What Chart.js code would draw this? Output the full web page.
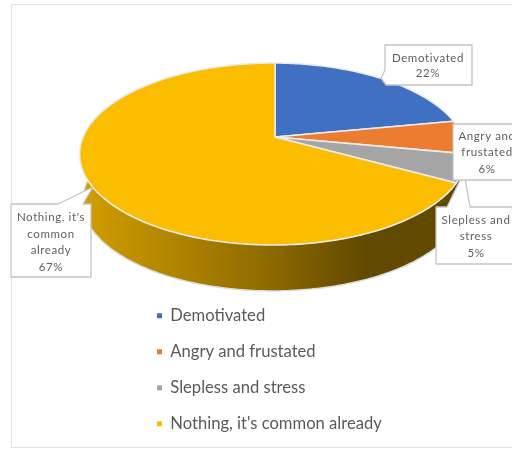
<!DOCTYPE html>
<html><head><meta charset="utf-8">
<script src="https://cdn.jsdelivr.net/npm/chart.js@4"></script>
<style>
html,body{margin:0;padding:0;background:#fff;width:512px;height:449px;overflow:hidden}
#frame{position:absolute;left:11px;top:4px;width:520px;height:444px;border:1px solid #e4e4e4;box-sizing:border-box}
#wrap{position:absolute;left:0;top:0;width:512px;height:449px;filter:blur(0.5px)}
</style></head><body>
<div id="frame"></div>
<div id="wrap"><canvas id="c" width="512" height="449"></canvas></div>
<script>
const categories = ["Demotivated", "Angry and frustated", "Slepless and stress", "Nothing, it's common already"];
const values = [22, 6, 5, 67];
const colors = ["#4070C2", "#EB7C30", "#A5A5A5", "#FBBD00"];
const labelLines = [["Demotivated"], ["Angry and", "frustated"], ["Slepless and", "stress"], ["Nothing, it's", "common", "already"]];

const TILT = {c: 1.52, a: 0.7024, b: 0.1868, g: -0.01, depth: 0.3808, floor: 0.985};
function project(x0, y0, R, theta, scale, drop) {
  const u = Math.sin(theta), v = -Math.cos(theta);
  const den = 1 - TILT.b * v - TILT.g * u;
  return [x0 + scale * TILT.c * R * u / den, y0 + scale * TILT.a * R * v / den + drop];
}
function shade(hex, f) {
  const n = parseInt(hex.slice(1), 16);
  return `rgb(${((n >> 16) & 255) * f | 0},${((n >> 8) & 255) * f | 0},${(n & 255) * f | 0})`;
}
Chart.ArcElement.prototype.draw = function (ctx) {
  const {x, y, outerRadius: R, startAngle, endAngle} = this;
  const s = startAngle + Math.PI / 2, e = endAngle + Math.PI / 2;
  const steps = Math.max(8, Math.ceil((e - s) * 60));
  const top = [], low = [];
  for (let i = 0; i <= steps; i++) {
    const t = s + (e - s) * i / steps;
    top.push(project(x, y, R, t, 1, 0));
    low.push(project(x, y, R, t, TILT.floor, TILT.depth * R));
  }
  const base = this.options.backgroundColor;
  // side wall
  const g = ctx.createLinearGradient(x - 1.56 * R, 0, x + 0.84 * R, 0);
  g.addColorStop(0, shade(base, 0.84));
  g.addColorStop(0.6, shade(base, 0.58));
  g.addColorStop(0.95, shade(base, 0.39));
  g.addColorStop(1, shade(base, 0.39));
  ctx.beginPath();
  top.forEach((p, i) => i ? ctx.lineTo(p[0], p[1]) : ctx.moveTo(p[0], p[1]));
  low.slice().reverse().forEach(p => ctx.lineTo(p[0], p[1]));
  ctx.closePath();
  ctx.fillStyle = g; ctx.fill();
  ctx.beginPath();
  low.forEach((p, i) => i ? ctx.lineTo(p[0], p[1]) : ctx.moveTo(p[0], p[1]));
  ctx.strokeStyle = "#dcdcdc"; ctx.lineWidth = 1.5; ctx.stroke();
  // top face
  ctx.beginPath();
  ctx.moveTo(x, y);
  top.forEach(p => ctx.lineTo(p[0], p[1]));
  ctx.closePath();
  ctx.fillStyle = base; ctx.fill();
  ctx.strokeStyle = "#ececec"; ctx.lineWidth = 1.6; ctx.lineJoin = "round"; ctx.stroke();
};

const LABEL_FONT = "11.5px Lato";
const callouts = [
  {box: [[385, 45], [472, 45], [472, 85], [386, 85], [381, 78], [385, 70]], cx: 428, ys: [58, 73]},
  {box: [[453, 124], [530, 124], [530, 180], [453, 180]], cx: 487, ys: [136, 152, 169]},
  {box: [[436, 207], [447, 207], [464, 172], [470, 207], [530, 207], [530, 264], [436, 264]], cx: 476, ys: [220, 236, 253]},
  {box: [[11, 204], [58, 204], [93, 187], [83, 204], [91, 204], [91, 277], [11, 277]], cx: 51, ys: [217, 234, 250, 267]}
];
const drawOrder = [0, 2, 1, 3];
const calloutPlugin = {
  id: "callouts",
  afterLayout(chart) {
    const l = chart.legend;
    l.left = 137.6; l.right = 505; l.top = 288; l.bottom = 600;
  },
  afterDatasetsDraw(chart) {
    const ctx = chart.ctx;
    ctx.save();
    drawOrder.forEach(i => {
      const c = callouts[i];
      ctx.beginPath();
      c.box.forEach((p, k) => k ? ctx.lineTo(p[0], p[1]) : ctx.moveTo(p[0], p[1]));
      ctx.closePath();
      ctx.fillStyle = "#fff"; ctx.fill();
      ctx.strokeStyle = "#c4c4c4"; ctx.lineWidth = 1.3; ctx.stroke();
      ctx.fillStyle = "#5f5f5f"; ctx.font = LABEL_FONT; ctx.letterSpacing = "0.6px";
      ctx.textAlign = "center"; ctx.textBaseline = "middle";
      labelLines[i].concat(values[i] + "%").forEach((t, k) => ctx.fillText(t, c.cx, c.ys[k]));
    });
    ctx.restore();
  }
};

new Chart(document.getElementById("c"), {
  type: "pie",
  data: {labels: categories, datasets: [{data: values, backgroundColor: colors, borderWidth: 0}]},
  options: {
    responsive: false,
    animation: false,
    layout: {padding: {left: 150, right: 112, top: 12, bottom: 187}},
    plugins: {
      tooltip: {enabled: false},
      legend: {
        position: "chartArea",
        align: "start",
        labels: {boxWidth: 5, boxHeight: 5, padding: 19.4, color: "#5a5a5a", font: {family: "Lato", size: 16.6}}
      }
    }
  },
  plugins: [calloutPlugin]
});
</script>
</body></html>
